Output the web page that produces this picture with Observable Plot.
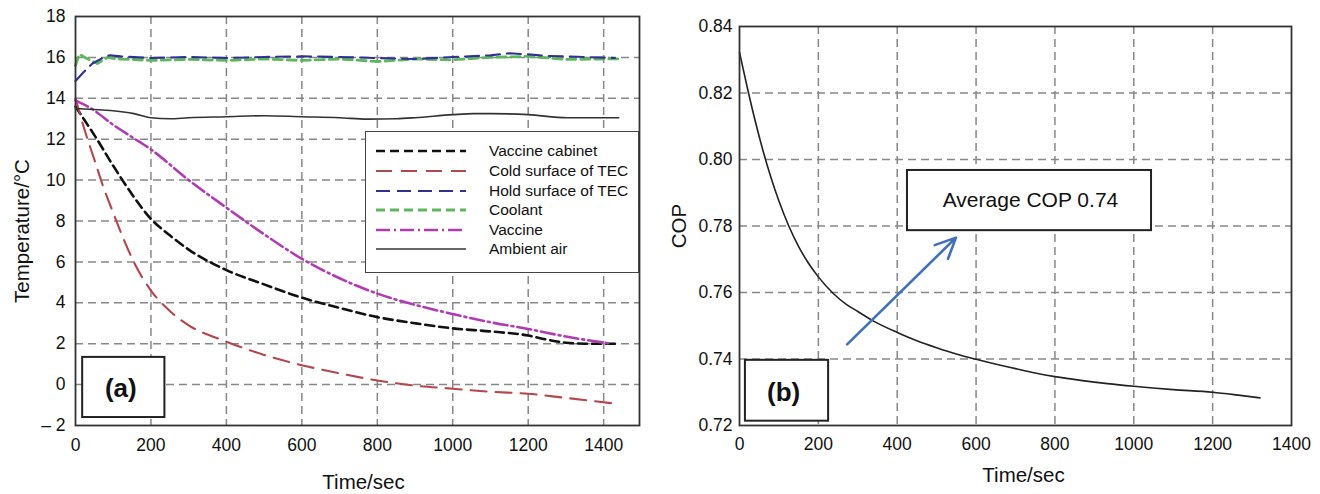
<!DOCTYPE html>
<html><head><meta charset="utf-8">
<script src="https://cdn.jsdelivr.net/npm/d3@7"></script>
<script src="https://cdn.jsdelivr.net/npm/@observablehq/plot@0.6"></script>
<style>
body{margin:0;background:#fff;font-family:"Liberation Sans",Arial,sans-serif;}
#wrap{position:relative;width:1320px;height:494px;display:flex;}
#legend{position:absolute;left:365px;top:131px;width:272px;height:140px;border:1.6px solid #444;background:#fff;}
</style></head><body><div id="wrap"></div>
<script>
// ---------- Panel (a) data ----------
const tempTicks = [-2, 0, 2, 4, 6, 8, 10, 12, 14, 16, 18];
const tempTickLabels = ["– 2", "0", "2", "4", "6", "8", "10", "12", "14", "16", "18"];
const timeTicksA = [0, 200, 400, 600, 800, 1000, 1200, 1400];
const timeTicksB = [0, 200, 400, 600, 800, 1000, 1200, 1400];
const copTicks = [0.72, 0.74, 0.76, 0.78, 0.80, 0.82, 0.84];

const seriesNames = ["Vaccine cabinet", "Cold surface of TEC", "Hold surface of TEC", "Coolant", "Vaccine", "Ambient air"];

const cabinetT = [0, 25, 50, 100, 150, 200, 250, 300, 400, 500, 600, 700, 800, 900, 1000, 1100, 1200, 1250, 1300, 1350, 1440];
const cabinetV = [13.6, 12.9, 12.2, 10.7, 9.3, 8.1, 7.3, 6.6, 5.6, 4.9, 4.25, 3.75, 3.3, 3.0, 2.75, 2.6, 2.4, 2.2, 2.05, 2.0, 2.0];

const coldT = [0, 25, 50, 75, 100, 130, 160, 200, 250, 300, 400, 500, 600, 700, 800, 900, 1000, 1100, 1200, 1300, 1440];
const coldV = [14.0, 12.4, 11.0, 9.6, 8.4, 7.0, 5.8, 4.6, 3.6, 2.9, 2.1, 1.45, 0.95, 0.55, 0.2, -0.05, -0.2, -0.35, -0.45, -0.65, -0.95];

const holdT = [0, 20, 45, 75, 90, 120, 200, 300, 400, 500, 600, 700, 800, 900, 1000, 1100, 1150, 1200, 1250, 1300, 1350, 1430];
const holdV = [14.85, 15.25, 15.7, 16.0, 16.1, 16.05, 15.97, 16.02, 15.97, 16.02, 16.05, 16.02, 15.97, 15.92, 16.02, 16.1, 16.2, 16.15, 16.07, 16.05, 16.02, 15.97];

const coolantT = [0, 10, 25, 40, 58, 85, 110, 150, 200, 300, 400, 500, 600, 700, 800, 900, 1000, 1100, 1200, 1300, 1440];
const coolantV = [15.6, 16.15, 16.0, 15.85, 15.7, 16.0, 15.92, 15.9, 15.85, 15.9, 15.85, 15.92, 15.85, 15.92, 15.8, 15.92, 15.88, 16.0, 16.05, 15.9, 15.93];

const vaccineT = [0, 50, 100, 150, 200, 300, 400, 500, 600, 700, 800, 900, 1000, 1100, 1200, 1300, 1420];
const vaccineV = [13.9, 13.4, 12.7, 12.1, 11.5, 10.0, 8.65, 7.35, 6.15, 5.2, 4.45, 3.9, 3.45, 3.05, 2.72, 2.35, 2.0];

const ambientT = [0, 50, 93, 155, 200, 250, 300, 400, 500, 600, 700, 773, 850, 900, 1000, 1056, 1100, 1200, 1304, 1440];
const ambientV = [13.5, 13.45, 13.4, 13.25, 13.05, 13.0, 13.05, 13.1, 13.15, 13.1, 13.05, 12.98, 13.0, 13.05, 13.2, 13.25, 13.25, 13.2, 13.05, 13.05];

// ---------- Panel (b) data ----------
const copTime = [0, 20, 40, 60, 80, 100, 125, 150, 175, 200, 238, 270, 300, 340, 400, 450, 500, 550, 600, 662, 700, 750, 800, 870, 933, 1000, 1100, 1200, 1260, 1320];
const copVal = [0.8322, 0.8215, 0.8115, 0.8025, 0.7945, 0.7875, 0.7800, 0.7738, 0.7688, 0.7647, 0.7597, 0.7565, 0.7543, 0.7514, 0.7480, 0.7455, 0.7434, 0.7415, 0.7399, 0.7381, 0.7371, 0.7358, 0.7347, 0.7335, 0.7326, 0.7318, 0.7308, 0.7300, 0.7292, 0.7283];

// annotations
const panelLabelA = [{x1: 19, x2: 237, y1: 1.33, y2: -1.61, tx: 120, ty: -0.2, text: "(a)"}];
const panelLabelB = [{x1: 15, x2: 226, y1: 0.7396, y2: 0.7213, tx: 112, ty: 0.7298, text: "(b)"}];
const avgBox = [{x1: 426, x2: 1045, y1: 0.7967, y2: 0.7786, tx: 738, ty: 0.7878, text: "Average COP 0.74"}];
const avgArrow = [{x1: 273, y1: 0.7444, x2: 549, y2: 0.7765}];

// ---------- styles ----------
const styles = [
  {stroke: "#111", strokeWidth: 2.6, dash: "9,5"},
  {stroke: "#b5474b", strokeWidth: 2.1, dash: "16,9"},
  {stroke: "#2e3192", strokeWidth: 2.1, dash: "14,7"},
  {stroke: "#5cb85c", strokeWidth: 2.8, dash: "9,5"},
  {stroke: "#b23ab2", strokeWidth: 2.6, dash: "14,4,2,4"},
  {stroke: "#333", strokeWidth: 1.6, dash: null}
];
const seriesData = [[cabinetT, cabinetV], [coldT, coldV], [holdT, holdV], [coolantT, coolantV], [vaccineT, vaccineV], [ambientT, ambientV]]
  .map(([ts, vs]) => ts.map((t, i) => ({t, v: vs[i]})));
const drawOrder = [3, 2, 0, 1, 4, 5];

const font = '"Liberation Sans", Arial, Helvetica, sans-serif';
const gridStyle = {stroke: "#888", strokeWidth: 1.5, strokeDasharray: "8,5"};
const tickFont = 17.5;

const plotA = Plot.plot({
  width: 660, height: 494,
  marginLeft: 75, marginRight: 21, marginTop: 16, marginBottom: 69,
  style: {fontFamily: font, fontSize: "17.5px", color: "#111", background: "transparent", overflow: "visible"},
  x: {domain: [0, 1495], label: null},
  y: {domain: [-2, 18], label: null},
  marks: [
    Plot.ruleY(tempTicks.slice(1, -1), {y: d => d, ...gridStyle}),
    Plot.ruleX(timeTicksA.slice(1), {x: d => d, ...gridStyle}),
    Plot.axisX({ticks: timeTicksA, tickSize: 0, tickPadding: 13, tickFormat: d => String(d), label: null, fontSize: tickFont}),
    Plot.axisY({ticks: tempTicks, tickSize: 0, tickPadding: 10, tickFormat: d => tempTickLabels[tempTicks.indexOf(d)], label: null, fontSize: tickFont}),
    ...drawOrder.map(i => Plot.line(seriesData[i], {
      x: "t", y: "v", stroke: styles[i].stroke, strokeWidth: styles[i].strokeWidth,
      strokeDasharray: styles[i].dash, curve: (i === 2 || i === 3) ? "linear" : "monotone-x"
    })),
    Plot.frame({stroke: "#333", strokeWidth: 1.8}),
    Plot.rect(panelLabelA, {x1: "x1", x2: "x2", y1: "y1", y2: "y2", fill: "white", stroke: "#222", strokeWidth: 2}),
    Plot.text(panelLabelA, {x: "tx", y: "ty", text: "text", fontWeight: "bold", fontSize: 26}),
    Plot.text(["Time/sec"], {text: d => d, frameAnchor: "bottom", textAnchor: "middle", lineAnchor: "middle", dx: 6, dy: 57, fontSize: 20.5}),
    Plot.text(["Temperature/°C"], {text: d => d, frameAnchor: "left", textAnchor: "middle", lineAnchor: "middle", dx: -53, dy: 10, rotate: -90, fontSize: 20.5})
  ]
});

const plotB = Plot.plot({
  width: 660, height: 494,
  marginLeft: 79, marginRight: 29, marginTop: 26, marginBottom: 69,
  style: {fontFamily: font, fontSize: "17.5px", color: "#111", background: "transparent", overflow: "visible"},
  x: {domain: [0, 1400], label: null},
  y: {domain: [0.72, 0.84], label: null},
  marks: [
    Plot.ruleY(copTicks.slice(1, -1), {y: d => d, ...gridStyle}),
    Plot.ruleX(timeTicksB.slice(1, -1), {x: d => d, ...gridStyle}),
    Plot.axisX({ticks: timeTicksB, tickSize: 0, tickPadding: 12, tickFormat: d => String(d), label: null, fontSize: tickFont}),
    Plot.axisY({ticks: copTicks, tickSize: 0, tickPadding: 7, tickFormat: d3.format(".2f"), label: null, fontSize: tickFont}),
    Plot.line(copTime.map((t, i) => ({t, v: copVal[i]})), {x: "t", y: "v", stroke: "#222", strokeWidth: 1.6, curve: "monotone-x"}),
    Plot.frame({stroke: "#333", strokeWidth: 1.8}),
    Plot.arrow(avgArrow, {x1: "x1", y1: "y1", x2: "x2", y2: "y2", stroke: "#4170b8", strokeWidth: 2.6, headLength: 13, headAngle: 50}),
    Plot.rect(avgBox, {x1: "x1", x2: "x2", y1: "y1", y2: "y2", fill: "white", stroke: "#222", strokeWidth: 2}),
    Plot.text(avgBox, {x: "tx", y: "ty", text: "text", fontSize: 21}),
    Plot.rect(panelLabelB, {x1: "x1", x2: "x2", y1: "y1", y2: "y2", fill: "white", stroke: "#222", strokeWidth: 2}),
    Plot.text(panelLabelB, {x: "tx", y: "ty", text: "text", fontWeight: "bold", fontSize: 26}),
    Plot.text(["Time/sec"], {text: d => d, frameAnchor: "bottom", textAnchor: "middle", lineAnchor: "middle", dx: 8, dy: 50, fontSize: 20.5}),
    Plot.text(["COP"], {text: d => d, frameAnchor: "left", textAnchor: "middle", lineAnchor: "middle", dx: -60, dy: 0, rotate: -90, fontSize: 20.5})
  ]
});

const wrap = document.getElementById("wrap");
wrap.appendChild(plotA);
wrap.appendChild(plotB);

// legend for panel (a)
const legend = d3.select(wrap).append("div").attr("id", "legend");
const lsvg = legend.append("svg").attr("width", 272).attr("height", 140).style("display", "block");
const rowY = [19, 39, 59, 78, 98, 117];
seriesNames.forEach((name, i) => {
  lsvg.append("line").attr("x1", 10).attr("x2", 100).attr("y1", rowY[i]).attr("y2", rowY[i])
    .attr("stroke", styles[i].stroke).attr("stroke-width", styles[i].strokeWidth)
    .attr("stroke-dasharray", styles[i].dash);
  lsvg.append("text").attr("x", 123).attr("y", rowY[i]).attr("dy", "0.35em")
    .attr("font-family", font).attr("font-size", 15.5).attr("fill", "#111").text(name);
});
</script>
</body></html>
